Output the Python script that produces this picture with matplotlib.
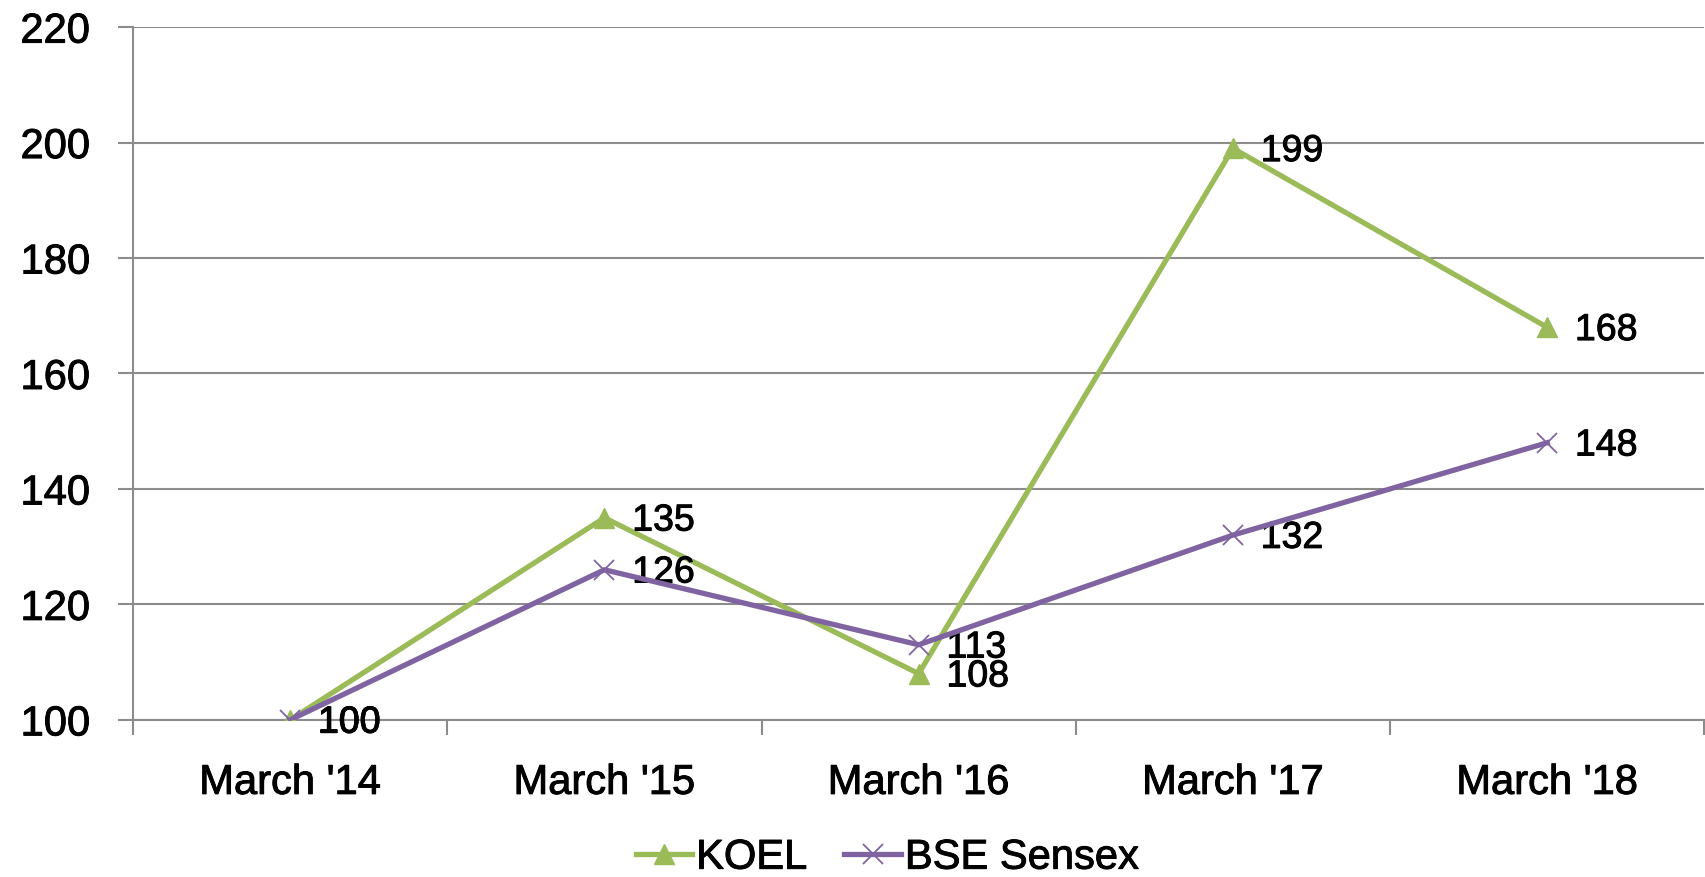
import matplotlib.pyplot as plt
import matplotlib.patheffects as pe
from matplotlib.ticker import FixedLocator

plt.rcParams['font.family'] = ['Liberation Sans', 'DejaVu Sans']

categories = ["March '14", "March '15", "March '16", "March '17", "March '18"]
koel = [100, 135, 108, 199, 168]
sensex = [100, 126, 113, 132, 148]

green = '#9BBB59'
purple = '#8064A2'
grid_col = '#8C8C8C'
heavy = [pe.withStroke(linewidth=0.7, foreground='black')]

fig = plt.figure(figsize=(17.06, 8.78), dpi=100)
ax = fig.add_axes([0.078, 0.179, 0.921, 0.789])

x = list(range(len(categories)))
ax.plot(x, koel, color=green, lw=3.8, marker='^', ms=14, label='KOEL', zorder=3)
ax.plot(x, sensex, color=purple, lw=3.8, marker='x', ms=14, mew=1.3, label='BSE Sensex', zorder=4)

# data labels, right of each point
for xi, v in zip(x, koel):
    ax.annotate(str(v), (xi, v), xytext=(20, -2), textcoords='offset points',
                ha='left', va='center', fontsize=27, path_effects=heavy)
for xi, v in zip(x, sensex):
    ax.annotate(str(v), (xi, v), xytext=(20, -2), textcoords='offset points',
                ha='left', va='center', fontsize=27, path_effects=heavy)

ax.set_xlim(-0.5, 4.5)
ax.set_ylim(100, 220)
ax.set_yticks(range(100, 221, 20))
ax.set_xticks(x)
ax.set_xticklabels(categories)
ax.xaxis.set_minor_locator(FixedLocator([i - 0.5 for i in range(6)]))

ax.yaxis.grid(True, color=grid_col, lw=1.5)
ax.set_axisbelow(True)
for s in ['top', 'right', 'bottom']:
    ax.spines[s].set_visible(False)
ax.spines['left'].set_color(grid_col)
ax.spines['left'].set_linewidth(1.5)

ax.tick_params(axis='y', length=11, width=1.5, color=grid_col, pad=20, labelsize=30)
ax.tick_params(axis='x', which='major', length=0, pad=31, labelsize=30)
ax.tick_params(axis='x', which='minor', length=11, width=1.5, color=grid_col, direction='out')
ax.axhline(100, color=grid_col, lw=1.5, zorder=1, clip_on=False)
for t in ax.get_xticklabels() + ax.get_yticklabels():
    t.set_path_effects(heavy)

leg = fig.legend(loc='center', bbox_to_anchor=(0.52, 0.022), ncol=2, frameon=False,
                 fontsize=30, handlelength=1.35, handletextpad=0.1, columnspacing=0.9,
                 borderaxespad=0, borderpad=0)
for t in leg.get_texts():
    t.set_path_effects(heavy)

fig.savefig('out.png', dpi=100)
